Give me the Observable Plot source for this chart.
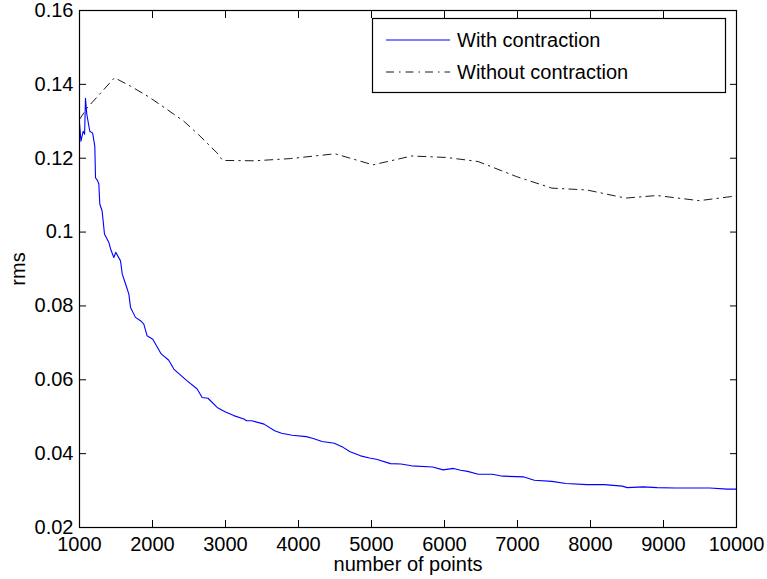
<!DOCTYPE html>
<html>
<head>
<meta charset="utf-8">
<script src="https://cdn.jsdelivr.net/npm/d3@7"></script>
<script src="https://cdn.jsdelivr.net/npm/@observablehq/plot@0.6"></script>
<style>
  html, body { margin: 0; padding: 0; background: white; }
</style>
</head>
<body>
<div id="chart"></div>
<script>
// ---- data ----
const xTicks = [1000, 2000, 3000, 4000, 5000, 6000, 7000, 8000, 9000, 10000];
const yTicks = [0.02, 0.04, 0.06, 0.08, 0.1, 0.12, 0.14, 0.16];
const seriesNames = ["With contraction", "Without contraction"];

const withX = [1000,1020,1050,1070,1082,1100,1141,1180,1210,1219,1245,1265,1278,1310,1342,1402,1425,1470,1497,1562,1585,1630,1676,1699,1767,1836,1881,1926,2004,2119,2223,2292,2400,2475,2612,2680,2760,2886,3000,3114,3251,3288,3360,3529,3673,3769,3913,4106,4202,4322,4490,4611,4707,4851,4971,5067,5260,5404,5548,5837,5981,6125,6221,6317,6462,6654,6798,7087,7231,7471,7663,7952,8192,8433,8505,8721,8913,9154,9394,9635,9875,10000];
const withY = [0.1295,0.1246,0.1273,0.1265,0.1362,0.1319,0.1273,0.1268,0.1232,0.1147,0.1140,0.1130,0.1076,0.1057,0.0995,0.0972,0.0955,0.0931,0.0945,0.0922,0.0887,0.0860,0.0832,0.0796,0.0769,0.0760,0.0751,0.0719,0.0710,0.0670,0.0653,0.0629,0.0610,0.0597,0.0575,0.0552,0.0550,0.0525,0.0513,0.0503,0.0494,0.0489,0.0489,0.0480,0.0462,0.0455,0.0450,0.0446,0.0441,0.0433,0.0428,0.0417,0.0405,0.0394,0.0388,0.0385,0.0373,0.0372,0.0367,0.0364,0.0356,0.0360,0.0355,0.0352,0.0344,0.0344,0.0339,0.0337,0.0328,0.0325,0.0319,0.0316,0.0316,0.0312,0.0308,0.0310,0.0308,0.0307,0.0307,0.0307,0.0304,0.0304];

const withoutX = [1000,1100,1480,1700,1950,2200,2430,2630,2886,2960,3400,3890,4500,5020,5550,6030,6460,6990,7470,7950,8480,8910,9490,10000];
const withoutY = [0.1305,0.1335,0.1418,0.1395,0.1366,0.1332,0.1300,0.1264,0.1214,0.1194,0.1193,0.1199,0.1212,0.1182,0.1206,0.1202,0.1191,0.1150,0.1119,0.1114,0.1092,0.1099,0.1085,0.1098];

const xLabel = "number of points";
const yLabel = "rms";

// ---- build tables ----
const withData = withX.map((x, i) => ({x, y: withY[i]}));
const withoutData = withoutX.map((x, i) => ({x, y: withoutY[i]}));

const BLUE = "#0000ff";
const DASH = "8,5,1.5,5";
const FONT = "'Liberation Sans', Arial, Helvetica, sans-serif";

const yFmt = d => String(+d.toFixed(2));
const blank = () => "";

const svg = Plot.plot({
  width: 767,
  height: 579,
  marginLeft: 79,
  marginRight: 31,
  marginTop: 10,
  marginBottom: 52,
  style: {fontFamily: FONT, fontSize: "20px", background: "white", color: "black"},
  x: {domain: [1000, 10000]},
  y: {domain: [0.02, 0.16]},
  marks: [
    Plot.line(withoutData, {x: "x", y: "y", stroke: "black", strokeWidth: 0.9, strokeDasharray: DASH}),
    Plot.line(withData, {x: "x", y: "y", stroke: BLUE, strokeWidth: 1.1}),
    Plot.frame({stroke: "black", strokeWidth: 1.2}),
    Plot.axisX({ticks: xTicks, anchor: "bottom", tickSize: 0, tickPadding: 9, tickFormat: "d", label: null}),
    Plot.axisX({ticks: xTicks, anchor: "bottom", tickSize: -7, tickFormat: blank, label: null}),
    Plot.axisX({ticks: xTicks, anchor: "top", tickSize: -7, tickFormat: blank, label: null}),
    Plot.axisY({ticks: yTicks, anchor: "left", tickSize: 0, tickPadding: 6, tickFormat: yFmt, label: null}),
    Plot.axisY({ticks: yTicks, anchor: "left", tickSize: -7, tickFormat: blank, label: null}),
    Plot.axisY({ticks: yTicks, anchor: "right", tickSize: -7, tickFormat: blank, label: null}),
    Plot.text([xLabel], {frameAnchor: "bottom", dy: 37, lineAnchor: "middle", textAnchor: "middle", text: d => d, fontSize: 20}),
    Plot.text([yLabel], {frameAnchor: "left", dx: -61, rotate: -90, lineAnchor: "middle", textAnchor: "middle", text: d => d, fontSize: 20})
  ]
});

// ---- legend (drawn inside the plot, top right) ----
const g = d3.select(svg).append("g")
  .attr("font-family", FONT).attr("font-size", 20).attr("text-anchor", "start");
g.append("rect").attr("x", 372.5).attr("y", 18.5).attr("width", 353).attr("height", 74)
  .attr("fill", "white").attr("stroke", "black").attr("stroke-width", 1.2);
const rows = [
  {name: seriesNames[0], stroke: BLUE, dash: null, y: 40},
  {name: seriesNames[1], stroke: "black", dash: DASH, y: 72}
];
rows.forEach(r => {
  g.append("line").attr("x1", 386).attr("x2", 450).attr("y1", r.y).attr("y2", r.y)
    .attr("stroke", r.stroke).attr("stroke-width", r.dash ? 0.9 : 1.1)
    .attr("stroke-dasharray", r.dash);
  g.append("text").attr("x", 457).attr("y", r.y + 7).attr("text-anchor", "start")
    .attr("fill", "black").text(r.name);
});

document.getElementById("chart").appendChild(svg);
</script>
</body>
</html>
